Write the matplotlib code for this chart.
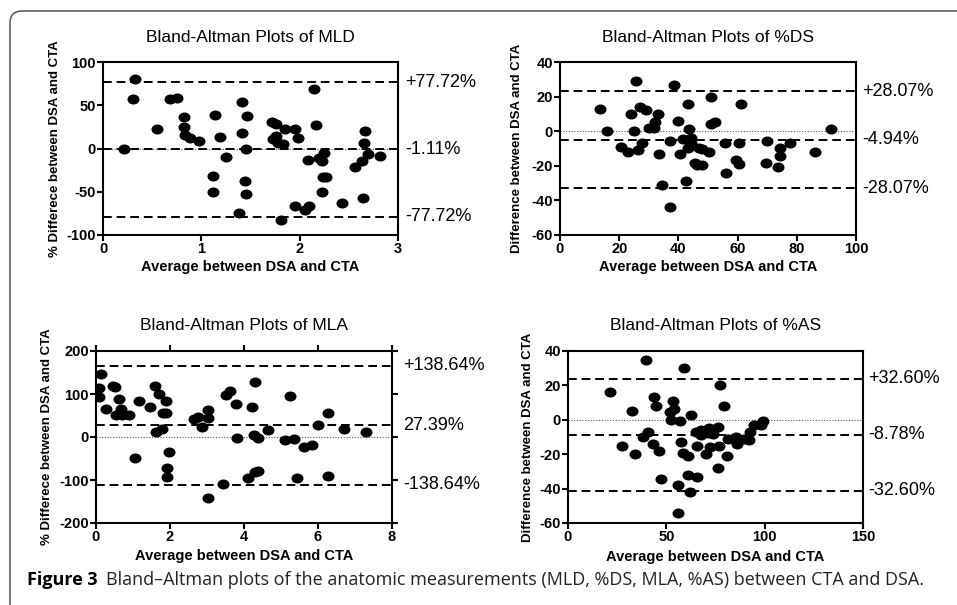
import numpy as np
import matplotlib
matplotlib.use("Agg")
import matplotlib.pyplot as plt
from matplotlib.patches import FancyBboxPatch
from matplotlib.path import Path
from matplotlib.transforms import Affine2D, IdentityTransform, blended_transform_factory

plt.rcParams['font.family'] = ['Liberation Sans', 'DejaVu Sans']
plt.rcParams['axes.unicode_minus'] = False

# MLD panel
mld_x = [0.21, 0.33, 0.31, 0.55, 0.68, 0.75, 0.82, 0.82, 0.83, 0.88, 0.98, 1.14, 1.19, 1.25,
         1.12, 1.12, 1.41, 1.46, 1.41, 1.45, 1.44, 1.45, 1.38, 1.72, 1.76, 1.73, 1.76, 1.78,
         1.83, 1.85, 1.95, 1.98, 1.81, 1.95, 2.05, 2.09, 2.08, 2.15, 2.17, 2.20, 2.23, 2.25,
         2.24, 2.27, 2.23, 2.43, 2.56, 2.63, 2.65, 2.66, 2.69, 2.82, 2.64]
mld_y = [0, 80.8, 56.9, 22.3, 56.9, 58, 36.9, 25.4, 15.8, 11.9, 8.8, 38.5, 13.1, -10.4,
         -31.9, -50.4, 53.5, 37.3, 17.7, 0, -37.3, -53.1, -74.2, 30.8, 28.1, 11.5, 15, 5.8,
         5, 23.1, 22.3, 12.3, -82.7, -66.2, -71.5, -66.9, -13.5, 68.8, 27.3, -10.8, -14.2, -5,
         -32.7, -32.7, -50.4, -62.7, -21.5, -14.6, 6.5, 20.8, -6.5, -9.2, -57.3]

# %DS panel
ds_x = [13.5, 16, 20.5, 23, 24.1, 25, 25.6, 26.5, 27, 27.7, 29.1, 30, 31.8, 32.2, 33.1, 33.6,
        34.6, 37, 37.1, 38.6, 40, 40.6, 41.4, 42.6, 43.1, 43.5, 43.2, 44, 44.4, 44.4, 45.5,
        46.4, 46.9, 48, 48.1, 50.2, 51.1, 51, 52.5, 55.8, 56, 59.5, 60.5, 60.5, 61.1, 69.7,
        70.1, 73.5, 74.2, 74.2, 77.6, 86, 91.5]
ds_y = [12.8, 0, -9, -12.1, 9.9, 0, 28.8, -11, 14.1, -6.9, 12, 2, 2, 5.1, 9.9, -13.1,
        -31, -5.9, -43.8, 26.9, 6, -12.9, -4.6, -28.7, 15.9, 1, -9.8, -8.3, -3.8, -6.9, -18.5,
        -19.8, -9.8, -10.2, -19.8, -11.9, 19.9, 3.9, 5.1, -6.9, -23.9, -16.8, -6.9, -18.9, 15.9, -18.5,
        -5.9, -20.8, -9.8, -14.1, -6.9, -11.9, 1]

# MLA panel
mla_x = [0.07, 0.07, 0.13, 0.27, 0.45, 0.51, 0.54, 0.62, 0.68, 0.70, 0.88, 1.06, 1.15, 1.46,
         1.60, 1.62, 1.69, 1.79, 1.80, 1.88, 1.89, 1.93, 1.92, 1.97, 2.65, 2.76, 2.86, 3.04,
         3.04, 3.02, 3.44, 3.51, 3.62, 3.79, 3.82, 4.12, 4.21, 4.31, 4.28, 4.37, 4.30, 4.39,
         4.65, 5.11, 5.23, 5.34, 5.44, 5.63, 5.83, 6.01, 6.28, 6.28, 6.71, 7.29]
mla_y = [93, 114.7, 145.7, 65.9, 118.6, 116.3, 50.4, 88.4, 65.9, 50.4, 50.4, -48, 82.9, 69.8,
         117.8, 11.6, 100.8, 17.8, 56.6, 82.9, 55.8, -72.9, -93, -34.9, 41.9, 47.3, 22.5, 62,
         45, -142.6, -109.3, 96.9, 107.8, 76, -2.3, -95.3, 70.5, 127.9, 5.4, -2.3, -82.2, -79.1,
         16.3, -7.8, 95.3, -4.7, -95.3, -23.3, -17.8, 27.1, 56.6, -89.9, 18.6, 11.6]

# %AS panel
as_x = [21.2, 27.6, 32.5, 34.1, 38.1, 39.5, 40.7, 43.6, 43.2, 44.9, 46.3, 47.1, 52, 52.4,
        53.4, 54.1, 56.1, 56.1, 56.9, 57.6, 58.3, 59, 61, 60.8, 62, 62.5, 65.3, 65.4, 65.6,
        67.8, 67.5, 69, 70, 71, 71.7, 72.2, 73.7, 76.1, 76.4, 76.8, 77.1, 79.3, 80.7, 81.5,
        85.3, 86.1, 89.3, 91.9, 92.4, 94.4, 98, 99]
as_y = [16, -15.2, 5.1, -20.1, -10, 35, -6.9, 13.1, -14.1, 8, -18.1, -34.2, 4.5, -0.3,
        10.9, 6.1, -38.1, -54.2, -0.9, -13.1, -19.1, 30.1, -20.9, -31.9, -42.2, 3, -7.1, -15.2, -33.3,
        -6.1, -9, -6.5, -20.1, -7.7, -4.8, -16, -8.1, -4, -28.2, -15.2, 20, 8, -21, -11,
        -10, -14.1, -11, -11.9, -7.1, -3, -3, -0.7]

titles = ["Bland-Altman Plots of MLD", "Bland-Altman Plots of %DS",
          "Bland-Altman Plots of MLA", "Bland-Altman Plots of %AS"]
ylabels = ["% Differece between DSA and CTA", "Difference between DSA and CTA",
           "% Differece between DSA and CTA", "Difference between DSA and CTA"]
means = [-1.11, -4.94, 27.39, -8.78]
limits = [77.72, 28.07, 138.64, 32.60]
mean_labels = ["-1.11%", "-4.94%", "27.39%", "-8.78%"]
xticks = [[0, 1, 2, 3], [0, 20, 40, 60, 80, 100], [0, 2, 4, 6, 8], [0, 50, 100, 150]]
yticks = [[-100, -50, 0, 50, 100], [-60, -40, -20, 0, 20, 40],
          [-200, -100, 0, 100, 200], [-60, -40, -20, 0, 20, 40]]

W, H = 957, 605
fig = plt.figure(figsize=(W / 100, H / 100), dpi=100)

# axes boxes in pixels: left, right, top, bottom
boxes = [(103, 398, 62, 235), (560, 856, 62, 235), (96, 392, 351, 523), (568, 863, 351, 523)]
ylab_off = [48, 43, 49, 40]
xlab_off = [32, 32, 33, 34]
lab_off = [7, 6, 11, 5]

# slightly wide dots, like the source
dot = Path.unit_circle().transformed(Affine2D().scale(1.2, 1.0))

data = [(mld_x, mld_y), (ds_x, ds_y), (mla_x, mla_y), (as_x, as_y)]

for i, (l, r, t, b) in enumerate(boxes):
    ax = fig.add_axes([l / W, 1 - b / H, (r - l) / W, (b - t) / H])
    x, y = data[i]
    ax.scatter(x, y, s=75, marker=dot, color='black', zorder=3, linewidths=0)

    ax.set_xlim(xticks[i][0], xticks[i][-1])
    ax.set_ylim(yticks[i][0], yticks[i][-1])
    ax.set_xticks(xticks[i])
    ax.set_yticks(yticks[i])

    ax.axhline(0, color='#555555', lw=0.8, ls=(0, (1, 1.5)), zorder=1)
    m, d = means[i], limits[i]
    for v in (m + d, m, m - d):
        ax.axhline(v, color='black', lw=1.4, ls=(0, (4.5, 2.5)), zorder=2)

    tr = blended_transform_factory(ax.transAxes, ax.transData)
    xo = 1 + lab_off[i] / (r - l)
    ax.text(xo, m + d, "+%.2f%%" % d, transform=tr, ha='left', va='center', fontsize=13)
    ax.text(xo, m, mean_labels[i], transform=tr, ha='left', va='center', fontsize=13)
    ax.text(xo, m - d, "-%.2f%%" % d, transform=tr, ha='left', va='center', fontsize=13)

    ax.text(0.5, 1 + 25 / (b - t), titles[i], transform=ax.transAxes,
            ha='center', va='center', fontsize=12.5)

    ax.set_xlabel("Average between DSA and CTA", fontsize=10.5, fontweight='bold', va='center')
    ax.xaxis.set_label_coords(0.5, -xlab_off[i] / (b - t))
    ax.set_ylabel(ylabels[i], fontsize=9.5, fontweight='bold', va='center')
    ax.yaxis.set_label_coords(-ylab_off[i] / (r - l), 0.5)

    for s in ax.spines.values():
        s.set_linewidth(1.5)
    ax.tick_params(direction='out', length=4, width=1.5, pad=1, labelsize=10.5)
    if i == 2:
        ax.tick_params(top=True, right=True)
    for lab in ax.get_xticklabels() + ax.get_yticklabels():
        lab.set_fontweight('bold')

# rounded frame round the figure
frame = FancyBboxPatch((10, -60), 1200, H - 11 + 60, boxstyle="round,pad=0,rounding_size=12",
                       transform=IdentityTransform(), fill=False, edgecolor='#555555', lw=1.1)
fig.patches.append(frame)

cap = fig.text(27 / W, 1 - 580 / H, "Figure 3", fontsize=13, fontweight='bold',
               family=['Open Sans', 'DejaVu Sans'], va='center', ha='left')
plt.annotate("Bland\u2013Altman plots of the anatomic measurements (MLD, %DS, MLA, %AS) between CTA and DSA.",
             xy=(1, 0.5), xycoords=cap, xytext=(6, 0), textcoords='offset points',
             va='center', ha='left', fontsize=13, family=['Open Sans', 'DejaVu Sans'],
             color='#222222', annotation_clip=False)

fig.savefig("out.png", dpi=100)
